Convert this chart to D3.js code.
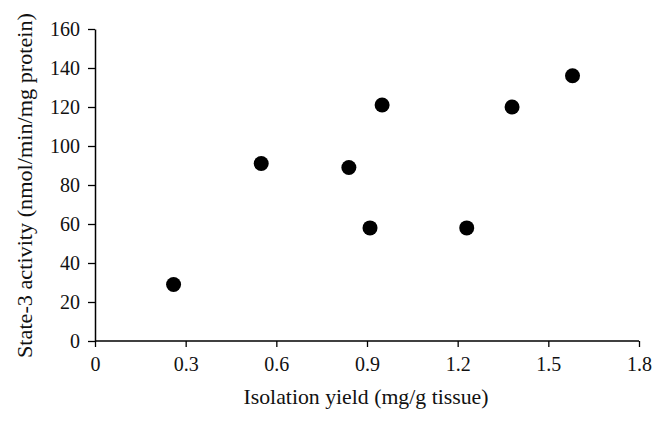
<!DOCTYPE html>
<html>
<head>
<meta charset="utf-8">
<script src="https://cdn.jsdelivr.net/npm/d3@7"></script>
<style>
  body { margin: 0; background: #fff; }
  text { font-family: "Liberation Serif", "DejaVu Serif", serif; fill: #111; }
</style>
</head>
<body>
<div id="chart"></div>
<script>
// data
var yieldVals = [0.26, 0.55, 0.84, 0.91, 0.95, 1.23, 1.38, 1.58];
var activityVals = [29, 91, 89, 58, 121, 58, 120, 136];
var xTicks = [0, 0.3, 0.6, 0.9, 1.2, 1.5, 1.8];
var yTicks = [0, 20, 40, 60, 80, 100, 120, 140, 160];

var W = 665, H = 421;
var margin = { top: 29, right: 26, bottom: 80, left: 95 },
  width = W - margin.left - margin.right,
  height = H - margin.top - margin.bottom;

var svg = d3.select("#chart")
  .append("svg")
  .attr("width", W)
  .attr("height", H)
  .append("g")
  .attr("transform", "translate(" + margin.left + "," + margin.top + ")");

var x = d3.scaleLinear().domain([0, 1.8]).range([0, width]);
var y = d3.scaleLinear().domain([0, 160]).range([height, 0]);

// x axis
var gx = svg.append("g")
  .attr("transform", "translate(0," + height + ")")
  .call(d3.axisBottom(x).tickValues(xTicks).tickSize(6).tickPadding(10)
    .tickFormat(function(d) { return d === 0 ? "0" : d3.format(".1f")(d); }));

// y axis
var gy = svg.append("g")
  .call(d3.axisLeft(y).tickValues(yTicks).tickSize(7).tickPadding(8).tickSizeOuter(0));

[gx, gy].forEach(function(g) {
  g.select(".domain").attr("stroke", "#000").attr("stroke-width", 1.5);
  g.selectAll(".tick line").attr("stroke", "#000").attr("stroke-width", 1.3);
  g.selectAll(".tick text")
    .style("font-family", "Liberation Serif, DejaVu Serif, serif")
    .style("font-size", "20px")
    .attr("fill", "#111");
});
gx.select(".domain").attr("d", "M0,0H" + width);

// points
svg.selectAll(".dot")
  .data(yieldVals.map(function(v, i) { return { x: v, y: activityVals[i] }; }))
  .enter()
  .append("circle")
  .attr("class", "dot")
  .attr("cx", function(d) { return x(d.x); })
  .attr("cy", function(d) { return y(d.y); })
  .attr("r", 7.5)
  .attr("fill", "#000");

// axis titles
svg.append("text")
  .attr("x", width / 2 - 1)
  .attr("y", height + 63)
  .attr("text-anchor", "middle")
  .attr("textLength", 245)
  .attr("lengthAdjust", "spacingAndGlyphs")
  .style("font-size", "21.5px")
  .text("Isolation yield (mg/g tissue)");

svg.append("text")
  .attr("transform", "translate(" + (-63) + "," + (height / 2 + 0.5) + ") rotate(-90)")
  .attr("text-anchor", "middle")
  .attr("textLength", 345)
  .attr("lengthAdjust", "spacingAndGlyphs")
  .style("font-size", "21.5px")
  .text("State-3 activity (nmol/min/mg protein)");
</script>
</body>
</html>
